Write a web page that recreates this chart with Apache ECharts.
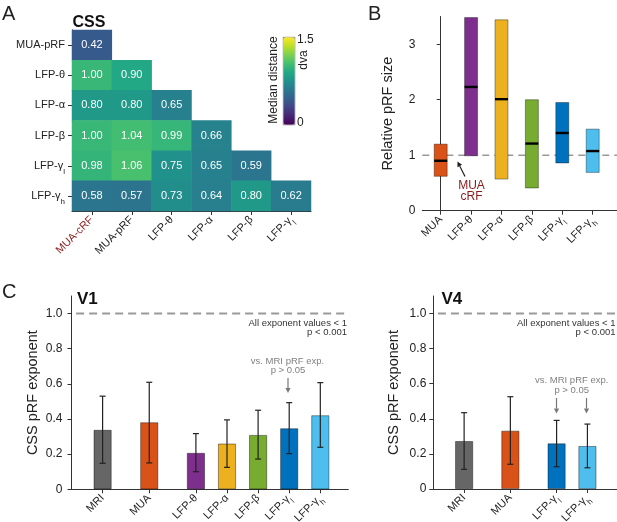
<!DOCTYPE html>
<html><head><meta charset="utf-8">
<script src="https://cdn.jsdelivr.net/npm/echarts@6/dist/echarts.min.js"></script>
<style>html,body{margin:0;padding:0;background:#fff}#c{width:617px;height:522px}</style>
</head><body><div id="c"></div>
<script>
// ---------- Panel A data ----------
const heatCols = ['MUA-cRF','MUA-pRF','LFP-θ','LFP-α','LFP-β','LFP-γl'];
const heatRows = ['MUA-pRF','LFP-θ','LFP-α','LFP-β','LFP-γl','LFP-γh'];
const heatValues = [
  [0.42],
  [1.00,0.90],
  [0.80,0.80,0.65],
  [1.00,1.04,0.99,0.66],
  [0.98,1.06,0.75,0.65,0.59],
  [0.58,0.57,0.73,0.64,0.80,0.62]
];
const colorbarRange = [0, 1.5];
// ---------- Panel B data ----------
const sizeCats = ['MUA','LFP-θ','LFP-α','LFP-β','LFP-γl','LFP-γh'];
const sizeLow = [0.62,0.99,0.57,0.41,0.86,0.69];
const sizeHigh = [1.20,3.48,3.44,2.00,1.95,1.47];
const sizeMedian = [0.90,2.23,2.01,1.21,1.40,1.075];
const sizeTicks = [0,1,2,3];
// ---------- Panel C data ----------
const v1Cats = ['MRI','MUA','LFP-θ','LFP-α','LFP-β','LFP-γl','LFP-γh'];
const v1Mean = [0.338,0.381,0.207,0.260,0.309,0.347,0.421];
const v1Low  = [0.148,0.150,0.100,0.125,0.172,0.203,0.239];
const v1High = [0.530,0.609,0.317,0.395,0.450,0.493,0.607];
const v4Cats = ['MRI','MUA','LFP-γl','LFP-γh'];
const v4Mean = [0.273,0.332,0.260,0.245];
const v4Low  = [0.112,0.141,0.127,0.121];
const v4High = [0.435,0.526,0.391,0.370];
const expTicks = [0,0.2,0.4,0.6,0.8,1.0];

// ---------- styles ----------
const FONT = 'Liberation Sans, Arial, sans-serif';
const DARKRED = '#8B1A1A';
const colorOf = {
  'MRI':'#666666','MUA':'#D95319','LFP-θ':'#7E2F8E','LFP-α':'#EDB120',
  'LFP-β':'#77AC30','LFP-γl':'#0072BD','LFP-γh':'#4DBEEE'
};
const viridis = ['#440154','#482475','#414487','#355f8d','#2a788e','#21918c','#22a884','#44bf70','#7ad151','#bddf26','#fde725'];
const subRich = {s:{fontSize:8, fontFamily:FONT, verticalAlign:'bottom', lineHeight:14, padding:[0,0,-3,0]}};
function fmt(name){
  if(name == null) return '';
  const m = name.match(/^(.*γ)([lh])$/);
  return m ? m[1] + '{s|' + m[2] + '}' : name;
}
// x slot positions: step 1 within the LFP group, 1.5 between groups
function slots(cats){
  const out = []; let p = 1;
  cats.forEach((c,i)=>{
    if(i>0) p += (c.startsWith('LFP') && cats[i-1].startsWith('LFP')) ? 1 : 1.5;
    out.push(p);
  });
  return out;
}
const v1Pos = slots(v1Cats), v4Pos = slots(v4Cats);
const sizePos = sizeCats.map((c,i)=>i);

const axisLine = {show:true, lineStyle:{color:'#333', width:1}};
const axisTick = {show:true, length:4, lineStyle:{color:'#333', width:1}};

function catFormatter(cats, pos){
  return v => { const k = pos.findIndex(p => Math.abs(p - v) < 1e-6); return k < 0 ? '' : fmt(cats[k]); };
}

// heatmap data
const heatData = [];
heatValues.forEach((row, r) => row.forEach((v, c) => heatData.push([c, r, v])));

function errRender(){
  return function(params, api){
    const x = api.value(0), lo = api.value(1), hi = api.value(2);
    const a = api.coord([x, hi]), b = api.coord([x, lo]);
    const cw = 3, st = {stroke:'#222', lineWidth:1.2};
    return {type:'group', children:[
      {type:'line', shape:{x1:a[0], y1:a[1], x2:b[0], y2:b[1]}, style:st},
      {type:'line', shape:{x1:a[0]-cw, y1:a[1], x2:a[0]+cw, y2:a[1]}, style:st},
      {type:'line', shape:{x1:b[0]-cw, y1:b[1], x2:b[0]+cw, y2:b[1]}, style:st}
    ]};
  };
}

function txt(x, y, text, opt){
  opt = opt || {};
  return {type:'text', x:x, y:y, rotation:opt.rot||0, z:100, silent:true,
    style:{text:text, font:(opt.weight||'normal') + ' ' + (opt.size||12) + 'px ' + FONT,
      fill:opt.color||'#222', textAlign:opt.align||'left', textVerticalAlign:'middle'}};
}
function arrow(x1, y1, x2, y2, color){
  const dx = x2-x1, dy = y2-y1, L = Math.sqrt(dx*dx+dy*dy), ux = dx/L, uy = dy/L;
  const hl = 5, hw = 2.6;
  const bx = x2 - ux*hl, by = y2 - uy*hl;
  return [
    {type:'line', z:100, silent:true, shape:{x1:x1, y1:y1, x2:bx, y2:by}, style:{stroke:color, lineWidth:1.2}},
    {type:'polygon', z:100, silent:true, shape:{points:[[x2,y2],[bx - uy*hw, by + ux*hw],[bx + uy*hw, by - ux*hw]]}, style:{fill:color}}
  ];
}

const option = {
  animation:false,
  textStyle:{fontFamily:FONT},
  grid:[
    {left:72, top:30, width:239, height:181, outerBoundsMode:'none'},
    {left:422.3, top:16.5, width:194.7, height:194.2, outerBoundsMode:'none'},
    {left:71.5, top:296, width:276.8, height:193.3, outerBoundsMode:'none'},
    {left:433.3, top:296, width:183.4, height:193, outerBoundsMode:'none'}
  ],
  visualMap:{
    type:'continuous', min:colorbarRange[0], max:colorbarRange[1], seriesIndex:0, calculable:false,
    left:283, top:37, itemWidth:11.5, itemHeight:87.5, orient:'vertical', padding:0,
    borderColor:'#333', borderWidth:0.6, hoverLink:false,
    inRange:{color:viridis}
  },
  xAxis:[
    {gridIndex:0, type:'category', data:heatCols, axisLine:axisLine, axisTick:Object.assign({alignWithLabel:true}, axisTick),
      splitLine:{show:false}, splitArea:{show:false},
      axisLabel:{rotate:45, margin:7, fontSize:11, fontFamily:FONT, formatter:fmt, rich:subRich,
        color:(v)=> v==='MUA-cRF' ? DARKRED : '#222'}},
    {gridIndex:1, type:'value', min:-0.605, max:5.8, axisLine:axisLine,
      axisTick:Object.assign({customValues:sizePos}, axisTick), splitLine:{show:false},
      axisLabel:{customValues:sizePos, rotate:45, margin:7, fontSize:11, color:'#222', fontFamily:FONT,
        formatter:catFormatter(sizeCats, sizePos), rich:subRich}},
    {gridIndex:2, type:'value', min:0, max:8.9, axisLine:axisLine,
      axisTick:Object.assign({customValues:v1Pos}, axisTick), splitLine:{show:false},
      axisLabel:{customValues:v1Pos, rotate:45, margin:7, fontSize:11, color:'#222', fontFamily:FONT,
        formatter:catFormatter(v1Cats, v1Pos), rich:subRich}},
    {gridIndex:3, type:'value', min:0, max:5.95, axisLine:axisLine,
      axisTick:Object.assign({customValues:v4Pos}, axisTick), splitLine:{show:false},
      axisLabel:{customValues:v4Pos, rotate:45, margin:7, fontSize:11, color:'#222', fontFamily:FONT,
        formatter:catFormatter(v4Cats, v4Pos), rich:subRich}}
  ],
  yAxis:[
    {gridIndex:0, type:'category', data:heatRows, inverse:true, axisLine:axisLine,
      axisTick:Object.assign({alignWithLabel:true}, axisTick), splitLine:{show:false}, splitArea:{show:false},
      axisLabel:{margin:7, fontSize:11, color:'#222', fontFamily:FONT, formatter:fmt, rich:subRich}},
    {gridIndex:1, type:'value', min:0, max:3.5, axisLine:axisLine,
      axisTick:Object.assign({customValues:sizeTicks}, axisTick), splitLine:{show:false},
      axisLabel:{customValues:sizeTicks, margin:7, fontSize:12, color:'#222', fontFamily:FONT},
      name:'Relative pRF size', nameLocation:'middle', nameGap:27,
      nameTextStyle:{fontSize:14.5, color:'#222', fontFamily:FONT}},
    {gridIndex:2, type:'value', min:0, max:1.1, axisLine:axisLine,
      axisTick:Object.assign({customValues:expTicks}, axisTick), splitLine:{show:false},
      axisLabel:{customValues:expTicks, margin:9, fontSize:12, color:'#222', fontFamily:FONT,
        formatter:v => v===0 ? '0' : v.toFixed(1)},
      name:'CSS pRF exponent', nameLocation:'middle', nameGap:31,
      nameTextStyle:{fontSize:14.5, color:'#222', fontFamily:FONT}},
    {gridIndex:3, type:'value', min:0, max:1.1, axisLine:axisLine,
      axisTick:Object.assign({customValues:expTicks}, axisTick), splitLine:{show:false},
      axisLabel:{customValues:expTicks, margin:7, fontSize:12, color:'#222', fontFamily:FONT,
        formatter:v => v===0 ? '0' : v.toFixed(1)},
      name:'CSS pRF exponent', nameLocation:'middle', nameGap:32,
      nameTextStyle:{fontSize:14.5, color:'#222', fontFamily:FONT}}
  ],
  series:[
    {type:'heatmap', xAxisIndex:0, yAxisIndex:0, data:heatData, silent:true,
      label:{show:true, color:'#fff', fontSize:11, fontFamily:FONT, formatter:p => p.value[2].toFixed(2)},
      emphasis:{disabled:true}},
    // B reference line
    {type:'line', xAxisIndex:1, yAxisIndex:1, data:[[-0.605,1],[5.8,1]], symbol:'none', silent:true, z:1,
      lineStyle:{color:'#999', width:1.6, type:[7,5]}},
    // B ranges + medians
    {type:'custom', xAxisIndex:1, yAxisIndex:1, z:3, silent:true,
      data:sizeCats.map((c,i)=>[sizePos[i], sizeLow[i], sizeHigh[i], sizeMedian[i]]),
      renderItem:function(params, api){
        const i = params.dataIndex;
        const x = api.value(0);
        const pLo = api.coord([x, api.value(1)]), pHi = api.coord([x, api.value(2)]), pMd = api.coord([x, api.value(3)]);
        const w = 13;
        return {type:'group', children:[
          {type:'rect', shape:{x:pLo[0]-w/2, y:pHi[1], width:w, height:pLo[1]-pHi[1]},
            style:{fill:colorOf[sizeCats[i]], stroke:'rgba(0,0,0,0.45)', lineWidth:0.8}},
          {type:'line', shape:{x1:pMd[0]-w/2, y1:pMd[1], x2:pMd[0]+w/2, y2:pMd[1]}, style:{stroke:'#000', lineWidth:2.4}}
        ]};
      }},
    // V1
    {type:'line', xAxisIndex:2, yAxisIndex:2, data:[[0.15,1],[8.9,1]], symbol:'none', silent:true, z:1,
      lineStyle:{color:'#9a9a9a', width:2, type:[8,5]}},
    {type:'bar', xAxisIndex:2, yAxisIndex:2, barWidth:18, silent:true,
      data:v1Mean.map((v,i)=>[v1Pos[i], v]),
      itemStyle:{color:p => colorOf[v1Cats[p.dataIndex]], borderColor:'rgba(0,0,0,0.5)', borderWidth:0.8}},
    {type:'custom', xAxisIndex:2, yAxisIndex:2, z:4, silent:true,
      data:v1Mean.map((v,i)=>[v1Pos[i], v1Low[i], v1High[i]]), renderItem:errRender()},
    // V4
    {type:'line', xAxisIndex:3, yAxisIndex:3, data:[[0.15,1],[5.95,1]], symbol:'none', silent:true, z:1,
      lineStyle:{color:'#9a9a9a', width:2, type:[8,5]}},
    {type:'bar', xAxisIndex:3, yAxisIndex:3, barWidth:18, silent:true,
      data:v4Mean.map((v,i)=>[v4Pos[i], v]),
      itemStyle:{color:p => colorOf[v4Cats[p.dataIndex]], borderColor:'rgba(0,0,0,0.5)', borderWidth:0.8}},
    {type:'custom', xAxisIndex:3, yAxisIndex:3, z:4, silent:true,
      data:v4Mean.map((v,i)=>[v4Pos[i], v4Low[i], v4High[i]]), renderItem:errRender()}
  ],
  graphic:[].concat(
    [
      txt(2, 14.5, 'A', {size:20}),
      txt(368, 14, 'B', {size:20}),
      txt(2, 292, 'C', {size:20}),
      txt(72.5, 22.5, 'CSS', {size:16, weight:'bold', color:'#111'}),
      txt(297, 40, '1.5', {size:12}),
      txt(297, 123, '0', {size:12}),
      txt(274, 80, 'Median distance', {size:12, align:'center', rot:Math.PI/2}),
      txt(303.5, 60, 'dva', {size:12, align:'center', rot:Math.PI/2}),
      txt(471.5, 185.7, 'MUA', {size:12, align:'center', color:DARKRED}),
      txt(471.5, 197, 'cRF', {size:12, align:'center', color:DARKRED}),
      txt(77, 299, 'V1', {size:17, weight:'bold', color:'#111'}),
      txt(441.5, 299, 'V4', {size:17, weight:'bold', color:'#111'}),
      txt(347, 323.5, 'All exponent values < 1', {size:9.5, align:'right', color:'#333'}),
      txt(347, 332.5, 'p < 0.001', {size:9.5, align:'right', color:'#333'}),
      txt(615.5, 323.5, 'All exponent values < 1', {size:9.5, align:'right', color:'#333'}),
      txt(615.5, 332.5, 'p < 0.001', {size:9.5, align:'right', color:'#333'}),
      txt(287.5, 361, 'vs. MRI pRF exp.', {size:9.5, align:'center', color:'#808080'}),
      txt(288, 370.5, 'p > 0.05', {size:9.5, align:'center', color:'#808080'}),
      txt(571.7, 380.7, 'vs. MRI pRF exp.', {size:9.5, align:'center', color:'#808080'}),
      txt(571.7, 390, 'p > 0.05', {size:9.5, align:'center', color:'#808080'})
    ],
    arrow(465, 176.5, 457.5, 161.5, '#222'),
    arrow(288, 378, 288, 393, '#777'),
    arrow(556.5, 398, 556.5, 413.5, '#777'),
    arrow(586.5, 398, 586.5, 413.5, '#777')
  )
};
const chart = echarts.init(document.getElementById('c'), null, {renderer:'canvas'});
chart.setOption(option);
</script>
</body></html>
